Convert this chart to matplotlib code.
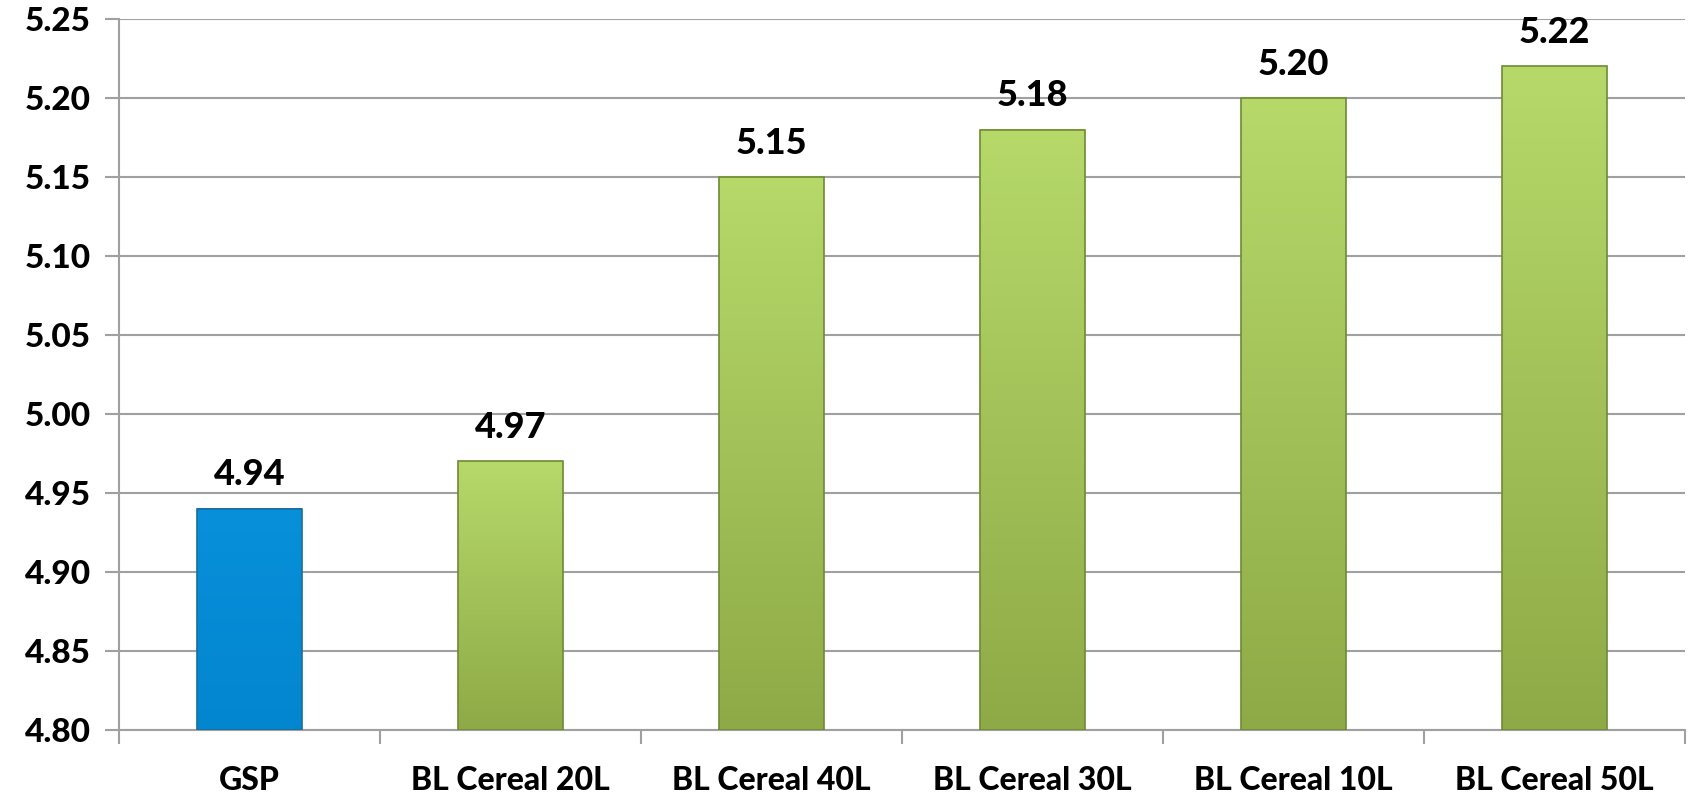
import numpy as np
import matplotlib.pyplot as plt
from matplotlib.colors import LinearSegmentedColormap
from matplotlib.patches import Rectangle

categories = ["GSP", "BL Cereal 20L", "BL Cereal 40L", "BL Cereal 30L",
              "BL Cereal 10L", "BL Cereal 50L"]
values = [4.94, 4.97, 5.15, 5.18, 5.20, 5.22]
y_ticks = [4.80, 4.85, 4.90, 4.95, 5.00, 5.05, 5.10, 5.15, 5.20, 5.25]

plt.rcParams['font.family'] = ['Lato', 'DejaVu Sans']

green = LinearSegmentedColormap.from_list("g", ["#8EAA47", "#B6D96A"])
blue = LinearSegmentedColormap.from_list("b", ["#0286CF", "#0890DA"])


def main():
    fig = plt.figure(figsize=(16.94, 7.92), dpi=100)
    ax = fig.add_axes([119 / 1694, 1 - 730 / 792, 1566 / 1694, 711 / 792])
    base = y_ticks[0]
    width = 0.40
    grad = np.linspace(0, 1, 256).reshape(-1, 1)

    for i, v in enumerate(values):
        cmap = blue if i == 0 else green
        edge = "#1A6E9E" if i == 0 else "#6E8A35"
        ax.imshow(grad, cmap=cmap, origin="lower", aspect="auto",
                  extent=(i - width / 2, i + width / 2, base, v), zorder=3)
        ax.add_patch(Rectangle((i - width / 2, base), width, v - base,
                               fill=False, edgecolor=edge, lw=1.2, zorder=4))
        ax.text(i, v + 0.011, f"{v:.2f}", ha="center", va="bottom",
                fontsize=26, fontweight="black", zorder=5)

    ax.set_xlim(-0.5, len(values) - 0.5)
    ax.set_ylim(base, y_ticks[-1])
    ax.set_yticks(y_ticks)
    ax.set_yticklabels([f"{t:.2f}" for t in y_ticks], fontsize=24,
                       fontweight="black")
    ax.set_xticks(np.arange(len(categories)))
    ax.set_xticklabels(categories, fontsize=23, fontweight="black")
    ax.set_xticks(np.arange(len(categories) + 1) - 0.5, minor=True)

    ax.tick_params(axis="x", which="major", length=0, pad=26)
    ax.tick_params(axis="x", which="minor", length=10, color="#A0A0A0",
                   width=1.5)
    ax.tick_params(axis="y", length=10, color="#A0A0A0", width=1.5, pad=10)
    ax.grid(axis="y", color="#A0A0A0", lw=1.5, zorder=0)
    ax.set_axisbelow(True)

    for s in ["top", "right"]:
        ax.spines[s].set_visible(False)
    for s in ["left", "bottom"]:
        ax.spines[s].set_color("#A0A0A0")
        ax.spines[s].set_linewidth(1.5)

    fig.savefig("out.png", dpi=100)


if __name__ == "__main__":
    main()
